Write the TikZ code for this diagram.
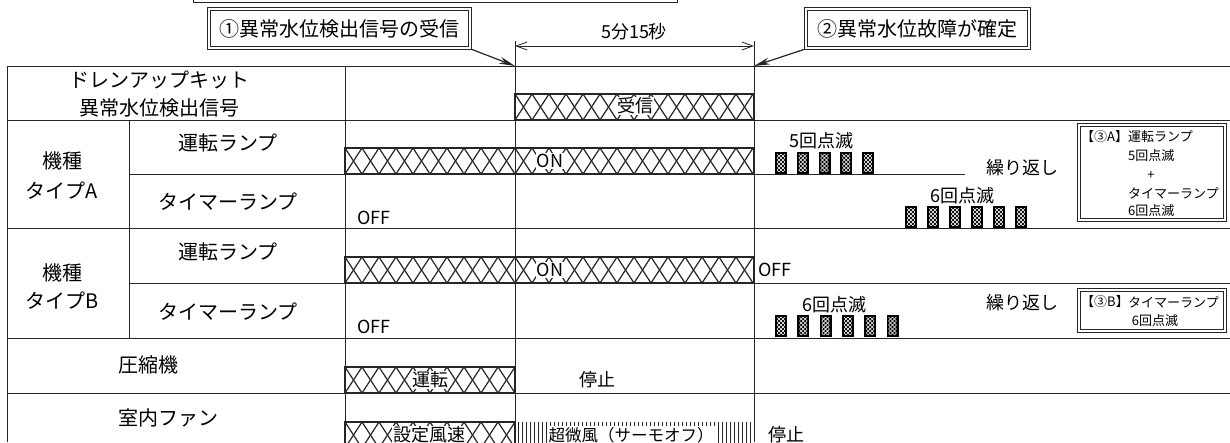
\documentclass[tikz,border=0pt]{standalone}
\usepackage{fontspec}
\setmainfont{Noto Sans CJK JP}
\usetikzlibrary{arrows.meta}
\tikzset{
  gridline/.style={line width=1pt, draw=black!85},
  barframe/.style={line width=1.8pt, draw=black!85},
  hatchline/.style={line width=1.2pt, draw=black!85},
  lbl/.style={font=\fontsize{20}{24}\selectfont, inner sep=0pt},
  sig/.style={font=\fontsize{18}{22}\selectfont, inner sep=1pt},
  bartext/.style={sig, fill=white},
  smalltxt/.style={font=\fontsize{13}{16}\selectfont, inner sep=0pt},
  boxline/.style={line width=0.8pt, draw=black!85},
  bigbox/.style={font=\fontsize{20}{24}\selectfont, minimum height=41pt, inner sep=0pt},
  emptybox/.style={inner sep=0pt},
  pointer/.style={line width=1.2pt, draw=black!85, -{Stealth[length=16pt,width=7pt]}},
  dimline/.style={line width=0.8pt, draw=black!85, {Straight Barb[length=11pt,width=8pt]}-{Straight Barb[length=11pt,width=8pt]}},
}
\newcommand\xhatch[4]{%
  \begin{scope}
    \clip (#1,#2) rectangle (#3,#4);
    \foreach \i in {-1,...,26}{
      \draw[hatchline] ({#1+\i*17},#2) -- ({#1+(\i+1)*17},#4);
      \draw[hatchline] ({#1+(\i+1)*17},#2) -- ({#1+\i*17},#4);
    }
  \end{scope}
  \draw[barframe] (#1,#2) rectangle (#3,#4);
}
\newcommand\blinkbox[2]{%
  \fill[black] (#1,#2-22) rectangle (#1+12,#2);
  \begin{scope}
    \clip (#1+2.2,#2-19.8) rectangle (#1+9.8,#2-2.2);
    \foreach \j in {-4,...,8}{
      \draw[white, line width=0.55pt] (#1,#2-22+\j*4) -- ++(12,12);
      \draw[white, line width=0.55pt] (#1,#2-22+\j*4) -- ++(12,-12);
    }
  \end{scope}
}
\newcommand\dblframe[1]{%
  \draw[boxline] (#1.north west) rectangle (#1.south east);
  \draw[boxline] ([xshift=2.4pt,yshift=-2.4pt]#1.north west) rectangle ([xshift=-2.4pt,yshift=2.4pt]#1.south east);
}
\begin{document}
\begin{tikzpicture}[x=1pt,y=-1pt]
\useasboundingbox (0,0) rectangle (1230,442);
\clip (0,0) rectangle (1230,442);

% partial box at the very top
\draw[boxline] (193,-20) rectangle (677,2);
\draw[boxline] (195.4,-20) rectangle (674.6,-0.4);

% grid
\draw[gridline] (7,66) -- (1230,66);
\draw[gridline] (7,120) -- (1230,120);
\draw[gridline] (129,174) -- (965,174);
\draw[gridline] (7,228) -- (1230,228);
\draw[gridline] (129,283) -- (1230,283);
\draw[gridline] (7,338) -- (1230,338);
\draw[gridline] (7,393) -- (1230,393);
\draw[gridline] (7,66) -- (7,442);
\draw[gridline] (129,120) -- (129,338);
\draw[gridline] (345,66) -- (345,442);

% bars
\xhatch{515}{94}{754}{120}
\xhatch{345}{148}{754}{174}
\xhatch{345}{257}{754}{283}
\xhatch{345}{367}{515}{393}
\xhatch{345}{422}{515}{448}
\foreach \i in {0,...,58}{
  \draw[line width=0.9pt, black!85] ({518+\i*4},422) -- ({518+\i*4},448);
}

% time markers
\draw[gridline] (515,41) -- (515,442);
\draw[gridline] (754,41) -- (754,442);

% blinks
\foreach \k in {0,...,4}{ \blinkbox{775+\k*21.75}{174} }
\foreach \k in {0,...,5}{ \blinkbox{905+\k*22}{228} }
\foreach \k in {0,...,5}{ \blinkbox{775+\k*22.3}{337} }

% left labels
\node[lbl] (l1) at (159,80) {ドレンアップキット};
\node[lbl] (l2) at (159,108) {異常水位検出信号};
\node[lbl] (l3) at (62,161) {機種};
\node[lbl] (l4) at (62,191) {タイプA};
\node[lbl] (l5) at (228,143) {運転ランプ};
\node[lbl] (l6) at (228,202) {タイマーランプ};
\node[lbl] (l7) at (62,273) {機種};
\node[lbl] (l8) at (62,301) {タイプB};
\node[lbl] (l9) at (228,252) {運転ランプ};
\node[lbl] (l10) at (228,312) {タイマーランプ};
\node[lbl, anchor=west] (l11) at (118,365) {圧縮機};
\node[lbl, anchor=west] (l12) at (118,418) {室内ファン};

% bar texts
\node[bartext] (s1) at (635,106) {受信};
\node[bartext] (s2) at (550,161) {ON};
\node[bartext] (s3) at (550,270) {ON};
\node[bartext] (s4) at (430,380) {運転};
\node[bartext] (s5) at (429,435) {設定風速};
\node[bartext, font=\fontsize{16.5}{20}\selectfont] (s6) at (631,435) {超微風（サーモオフ）};

% other signal texts
\node[sig, anchor=west] (o1) at (356,218) {OFF};
\node[sig, anchor=west] (o2) at (356,327) {OFF};
\node[sig, anchor=west] (o3) at (757,270) {OFF};
\node[sig] (o4) at (597,380) {停止};
\node[sig, anchor=west] (o5) at (767,435) {停止};
\node[sig] (n1) at (821,141) {5回点滅};
\node[sig] (n2) at (1022,168) {繰り返し};
\node[sig] (n3) at (962,196) {6回点滅};
\node[sig] (n4) at (834,305) {6回点滅};
\node[sig] (n5) at (1022,303) {繰り返し};

% result boxes
\node[emptybox, minimum width=148pt, minimum height=97pt] (b3a) at (1152,172.5) {};
\dblframe{b3a}
\node[smalltxt, anchor=west] (t1a) at (1081,137) {【③A】};
\node[smalltxt, anchor=west] (t1b) at (1128,137) {運転ランプ};
\node[smalltxt, anchor=west] (t2) at (1128,156) {5回点滅};
\node[smalltxt] (t3) at (1151,175) {+};
\node[smalltxt, anchor=west] (t4) at (1128,193) {タイマーランプ};
\node[smalltxt, anchor=west] (t5) at (1128,211) {6回点滅};
\node[emptybox, minimum width=148pt, minimum height=43pt] (b3b) at (1152,310.5) {};
\dblframe{b3b}
\node[smalltxt, anchor=west] (t6a) at (1081,302) {【③B】};
\node[smalltxt, anchor=west] (t6b) at (1128,302) {タイマーランプ};
\node[smalltxt] (t7) at (1155,321) {6回点滅};

% event boxes and pointers
\node[bigbox, minimum width=263pt] (b1) at (339.5,28.5) {①異常水位検出信号の受信};
\dblframe{b1}
\node[bigbox, minimum width=225pt] (b2) at (917.5,28.5) {②異常水位故障が確定};
\dblframe{b2}
\coordinate (p1) at (515,66);
\coordinate (p2) at (754,66);
\draw[pointer] (b1.south east) -- (p1);
\draw[pointer] (b2.south west) -- (p2);

% duration
\coordinate (d1) at (515,46);
\coordinate (d2) at (754,46);
\draw[dimline] (d1) -- (d2);
\node[sig] (dur) at (634,32) {5分15秒};
\end{tikzpicture}
\end{document}
